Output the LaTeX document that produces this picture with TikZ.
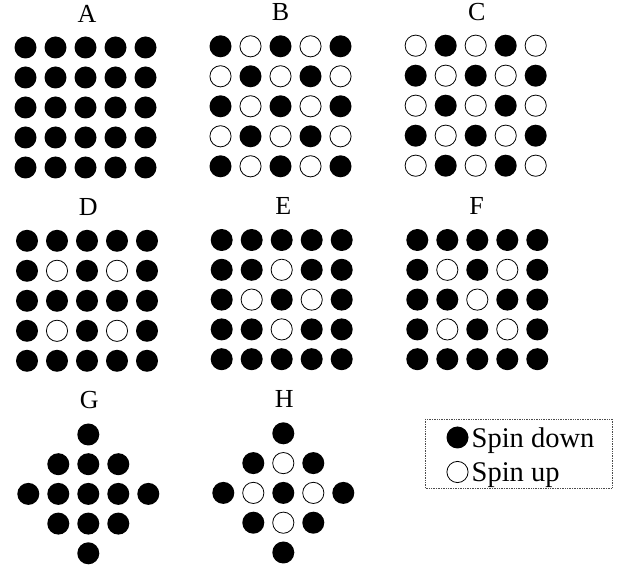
\documentclass[tikz,border=0pt]{standalone}
\usepackage{fontspec}
\setmainfont{Liberation Serif}
\tikzset{
  dn/.style={circle, fill=black, minimum size=22pt, inner sep=0pt},
  upc/.style={circle, draw=black, line width=0.8pt, fill=white, minimum size=21.2pt, inner sep=0pt},
  lab/.style={font=\fontsize{26}{30}\selectfont, inner sep=0pt},
  legtext/.style={font=\fontsize{28.5}{34}\selectfont, inner sep=0pt, anchor=base west},
  legbox/.style={densely dotted, line width=0.7pt, draw=black!70}
}
\newcommand\spingrid[6]{%
  \foreach \v [count=\k from 0] in {#6} {
    \pgfmathtruncatemacro\ci{mod(\k,5)}
    \pgfmathtruncatemacro\rj{div(\k,5)}
    \ifnum\v=1 \node[dn] (#1-\rj-\ci) at ({#2+30*\ci},{#3+#4*\rj}) {};\fi
    \ifnum\v=0 \node[upc] (#1-\rj-\ci) at ({#2+30*\ci},{#3+#4*\rj}) {};\fi
  }%
  \node[lab] (#1-label) at ({#2+60+#5},{#3-34}) {#1};%
}
\begin{document}
\begin{tikzpicture}[x=1pt,y=-1pt]
\useasboundingbox (0,0) rectangle (625,572);
\spingrid{A}{25.5}{47.5}{30}{1.5}{1,1,1,1,1, 1,1,1,1,1, 1,1,1,1,1, 1,1,1,1,1, 1,1,1,1,1}
\spingrid{B}{220.5}{46.3}{30}{0}{1,0,1,0,1, 0,1,0,1,0, 1,0,1,0,1, 0,1,0,1,0, 1,0,1,0,1}
\spingrid{C}{415.7}{45.7}{30}{1}{0,1,0,1,0, 1,0,1,0,1, 0,1,0,1,0, 1,0,1,0,1, 0,1,0,1,0}
\spingrid{D}{27}{240.8}{30}{1.3}{1,1,1,1,1, 1,0,1,0,1, 1,1,1,1,1, 1,0,1,0,1, 1,1,1,1,1}
\spingrid{E}{221.7}{240}{29.8}{1.6}{1,1,1,1,1, 1,1,0,1,1, 1,0,1,0,1, 1,1,0,1,1, 1,1,1,1,1}
\spingrid{F}{417.3}{240}{29.8}{-0.6}{1,1,1,1,1, 1,0,1,0,1, 1,1,0,1,1, 1,0,1,0,1, 1,1,1,1,1}
\spingrid{G}{28.3}{434.5}{29.7}{1}{2,2,1,2,2, 2,1,1,1,2, 1,1,1,1,1, 2,1,1,1,2, 2,2,1,2,2}
\spingrid{H}{223.3}{433.3}{29.8}{1}{2,2,1,2,2, 2,1,0,1,2, 1,0,1,0,1, 2,1,0,1,2, 2,2,1,2,2}
% legend
\draw[legbox] (425,419) rectangle (612.3,488);
\node[dn] (legdn) at (457.5,437.5) {};
\node[upc] (legup) at (457.5,472) {};
\node[legtext] (legdntext) at (471.5,447.5) {Spin down};
\node[legtext] (leguptext) at (471.5,482) {Spin up};
\end{tikzpicture}
\end{document}
